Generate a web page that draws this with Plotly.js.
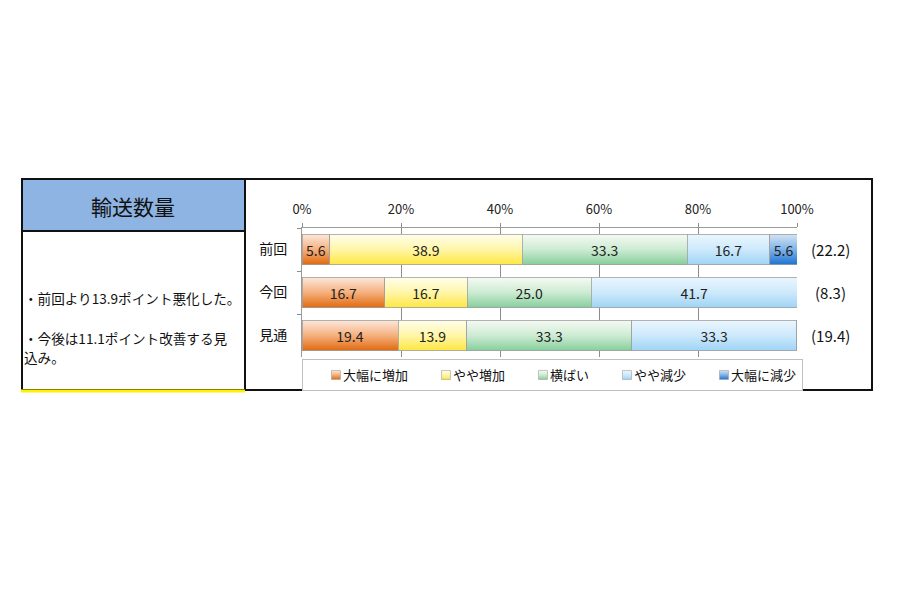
<!DOCTYPE html>
<html>
<head>
<meta charset="utf-8">
<script src="https://cdn.plot.ly/plotly-3.0.1.min.js"></script>
<style>
html,body{margin:0;padding:0;background:#fff;}
#chart{width:900px;height:600px;}
</style>
</head>
<body>
<div id="chart"></div>
<script>
// ---- data ----
const categories = ['前回', '今回', '見通'];
const seriesNames = ['大幅に増加', 'やや増加', '横ばい', 'やや減少', '大幅に減少'];
const bigIncrease   = [5.6, 16.7, 19.4];
const slightIncrease = [38.9, 16.7, 13.9];
const flat          = [33.3, 25.0, 33.3];
const slightDecrease = [16.7, 41.7, 33.3];
const bigDecrease   = [5.6, 0, 0];
const diLabels = ['(22.2)', '(8.3)', '(19.4)'];
const xTickVals = [0, 20, 40, 60, 80, 100];
const xTickText = ['0%', '20%', '40%', '60%', '80%', '100%'];
const panelTitle = '輸送数量';
const noteLine1 = '・前回より13.9ポイント悪化した。';
const noteLine2a = '・今後は11.1ポイント改善する見';
const noteLine2b = '込み。';

const seriesValues = [bigIncrease, slightIncrease, flat, slightDecrease, bigDecrease];
const baseColors = ['#EE8A45', '#FFF089', '#B5E2BF', '#C4E5FB', '#5B9BE0'];
const gradStops = [
  ['#FCE7DA', '#F5B07E', '#E06A10'],
  ['#FFFEEC', '#FFF6A8', '#FFE642'],
  ['#F5FAF3', '#CDEBD3', '#86CF9C'],
  ['#EAF6FE', '#CDE9FB', '#9FD4F6'],
  ['#D3E3F3', '#7FB3E8', '#1F73D2']
];

// ---- geometry helpers (pixel -> paper) ----
const ML = 302, MR = 103, MT = 228, MB = 243, W = 900, H = 600;
const PW = W - ML - MR, PH = H - MT - MB;
const fx = px => (px - ML) / PW;
const fy = py => (H - MB - py) / PH;

const FONT = '"Noto Sans CJK JP", "Noto Sans", sans-serif';

const traces = seriesNames.map((name, i) => ({
  type: 'bar',
  orientation: 'h',
  name: name,
  y: categories,
  x: seriesValues[i],
  text: seriesValues[i].map(v => v > 0 ? v.toFixed(1) : ''),
  textposition: 'inside',
  insidetextanchor: 'middle',
  textangle: 0,
  constraintext: 'none',
  textfont: {family: FONT, size: 14, color: '#222'},
  marker: {color: baseColors[i], line: {color: '#A0A0A0', width: 0.8}},
  hoverinfo: 'none'
}));

const shapes = [
  {type: 'rect', xref: 'paper', yref: 'paper', x0: fx(22), x1: fx(245), y0: fy(231), y1: fy(179),
   fillcolor: '#8DB4E2', line: {width: 0}, layer: 'below'},
  {type: 'rect', xref: 'paper', yref: 'paper', x0: fx(22), x1: fx(872), y0: fy(390), y1: fy(179),
   line: {color: '#111', width: 2}},
  {type: 'line', xref: 'paper', yref: 'paper', x0: fx(245), x1: fx(245), y0: fy(390), y1: fy(179),
   line: {color: '#111', width: 2}},
  {type: 'line', xref: 'paper', yref: 'paper', x0: fx(22), x1: fx(245), y0: fy(231), y1: fy(231),
   line: {color: '#111', width: 2}},
  {type: 'line', xref: 'paper', yref: 'paper', x0: fx(21), x1: fx(245), y0: fy(391), y1: fy(391),
   line: {color: '#FFF200', width: 3}}
];

const noteFont = {family: FONT, size: 13.6, color: '#111'};
const annotations = [
  {xref: 'paper', yref: 'paper', x: fx(133), y: fy(206), text: panelTitle, showarrow: false,
   font: {family: FONT, size: 21, color: '#111'}, xanchor: 'center', yanchor: 'middle'},
  {xref: 'paper', yref: 'paper', x: fx(22), y: fy(298), text: noteLine1, showarrow: false,
   font: noteFont, xanchor: 'left', yanchor: 'middle'},
  {xref: 'paper', yref: 'paper', x: fx(22), y: fy(338), text: noteLine2a, showarrow: false,
   font: noteFont, xanchor: 'left', yanchor: 'middle'},
  {xref: 'paper', yref: 'paper', x: fx(22), y: fy(357), text: noteLine2b, showarrow: false,
   font: noteFont, xanchor: 'left', yanchor: 'middle'}
].concat(categories.map((c, i) => ({
  xref: 'paper', yref: 'y', x: fx(830), y: c, text: diLabels[i], showarrow: false,
  font: {family: FONT, size: 15, color: '#111'}, xanchor: 'center', yanchor: 'middle'
})));

const layout = {
  width: W, height: H,
  margin: {l: ML, r: MR, t: MT, b: MB, pad: 0},
  paper_bgcolor: '#fff', plot_bgcolor: '#fff',
  barmode: 'stack',
  bargap: 0.3,
  showlegend: true,
  font: {family: FONT, color: '#222'},
  xaxis: {
    side: 'top', range: [0, 100], tickvals: xTickVals, ticktext: xTickText,
    ticks: 'outside', ticklen: 4, tickcolor: '#8c8c8c', ticklabelstandoff: 4,
    showline: true, linecolor: '#9a9a9a', linewidth: 1,
    showgrid: true, gridcolor: '#8c8c8c', gridwidth: 1, zeroline: false,
    tickfont: {family: FONT, size: 13, color: '#222'}, fixedrange: true
  },
  yaxis: {
    type: 'category', categoryorder: 'array', categoryarray: categories, autorange: 'reversed',
    ticks: 'outside', tickson: 'boundaries', ticklen: 4, tickcolor: '#8c8c8c',
    showline: true, linecolor: '#9a9a9a', linewidth: 1, showgrid: false,
    ticklabelstandoff: 11,
    tickfont: {family: FONT, size: 14, color: '#111'}, fixedrange: true
  },
  legend: {
    orientation: 'h', x: -0.0001, xanchor: 'left', y: fy(359), yanchor: 'top',
    bgcolor: '#fff', bordercolor: '#C0C0C0', borderwidth: 1,
    font: {family: FONT, size: 13, color: '#111'},
    itemwidth: 30, traceorder: 'normal', itemclick: false, itemdoubleclick: false
  },
  shapes: shapes,
  annotations: annotations
};

const gd = document.getElementById('chart');

function applyGradients() {
  const svg = gd.querySelector('svg.main-svg');
  if (!svg) return;
  let defs = svg.querySelector('defs');
  if (!defs) { defs = document.createElementNS('http://www.w3.org/2000/svg', 'defs'); svg.insertBefore(defs, svg.firstChild); }
  gradStops.forEach((stops, i) => {
    const id = 'barGrad' + i;
    if (!svg.querySelector('#' + id)) {
      const lg = document.createElementNS('http://www.w3.org/2000/svg', 'linearGradient');
      lg.setAttribute('id', id);
      lg.setAttribute('x1', '0'); lg.setAttribute('y1', '0');
      lg.setAttribute('x2', '0'); lg.setAttribute('y2', '1');
      [0, 0.5, 1].forEach((o, k) => {
        const st = document.createElementNS('http://www.w3.org/2000/svg', 'stop');
        st.setAttribute('offset', o);
        st.setAttribute('stop-color', stops[k]);
        lg.appendChild(st);
      });
      defs.appendChild(lg);
    }
  });
  const barTraces = gd.querySelectorAll('.barlayer .trace.bars');
  barTraces.forEach((t, i) => {
    t.querySelectorAll('.point path').forEach(p => { p.style.fill = 'url(#barGrad' + i + ')'; });
  });
  const legTraces = gd.querySelectorAll('.legend .traces');
  legTraces.forEach((t, i) => {
    t.querySelectorAll('.legendpoints path').forEach(p => {
      p.style.fill = 'url(#barGrad' + i + ')';
      p.setAttribute('transform', (p.getAttribute('transform') || '') + ' translate(13,0) scale(0.75)');
    });
  });
}

Plotly.newPlot(gd, traces, layout, {staticPlot: true, displayModeBar: false}).then(applyGradients);
</script>
</body>
</html>
